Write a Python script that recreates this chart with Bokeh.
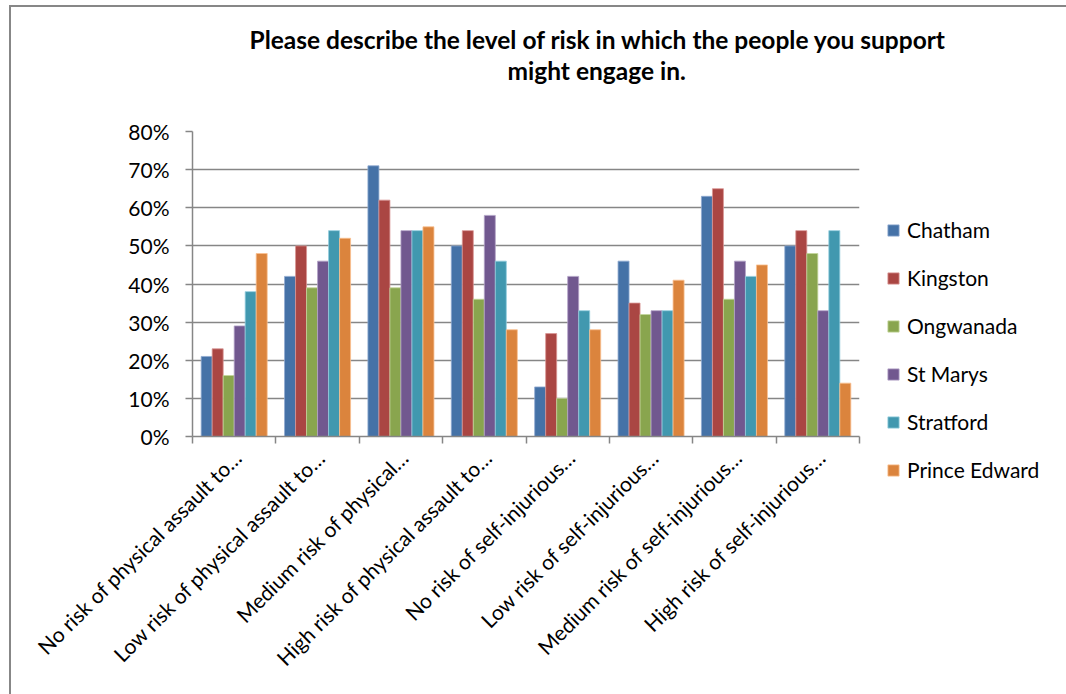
import math
from bokeh.plotting import figure
from bokeh.models import (ColumnDataSource, Legend, LegendItem, FixedTicker,
                          NumeralTickFormatter, CustomJSTickFormatter, Title,
                          Range1d)
from bokeh.embed import file_html
from bokeh.resources import INLINE

# Risk levels (x categories)
categories = [
    "No risk of physical assault to…",
    "Low risk of physical assault to…",
    "Medium risk of physical…",
    "High risk of physical assault to…",
    "No risk of self-injurious…",
    "Low risk of self-injurious…",
    "Medium risk of self-injurious…",
    "High risk of self-injurious…",
]

sites = ["Chatham", "Kingston", "Ongwanada", "St Marys", "Stratford", "Prince Edward"]

# Percent of respondents per site
chatham = [21, 42, 71, 50, 13, 46, 63, 50]
kingston = [23, 50, 62, 54, 27, 35, 65, 54]
ongwanada = [16, 39, 39, 36, 10, 32, 36, 48]
st_marys = [29, 46, 54, 58, 42, 33, 46, 33]
stratford = [38, 54, 54, 46, 33, 33, 42, 54]
prince_edward = [48, 52, 55, 28, 28, 41, 45, 14]

y_ticks = [0, 10, 20, 30, 40, 50, 60, 70, 80]

title_lines = ["Please describe the level of risk in which the people you support",
               "might engage in."]

series = [chatham, kingston, ongwanada, st_marys, stratford, prince_edward]
colors = ["#4572A7", "#AA4643", "#89A54E", "#71588F", "#4198AF", "#DB843D"]
edge_colors = ["#8FAAD0", "#D99694", "#C3D69B", "#B3A2C7", "#93CDDD", "#FAC090"]

FONT = "Lato"
GRID = "#868686"

p = figure(
    width=1055, height=687,
    frame_width=667, frame_height=305,
    min_border_left=181, min_border_right=207,
    min_border_top=124, min_border_bottom=258,
    x_range=Range1d(0, len(categories)), y_range=Range1d(0, 0.8),
    output_backend="svg", toolbar_location=None, tools="",
)
p.title = None
p.outline_line_color = None
p.background_fill_color = "white"
p.border_fill_color = "white"
# chart-area border on the left and top edges
p.styles = {"margin-left": "9px", "margin-top": "5px",
            "border-left": "2px solid #878787", "border-top": "2px solid #878787"}

# Clustered bars: six per risk level
bar_w = 0.132
n = len(sites)
items = []
for j, (name, vals, col, edge) in enumerate(zip(sites, series, colors, edge_colors)):
    xs = [i + 0.5 + (j - (n - 1) / 2) * bar_w for i in range(len(categories))]
    src = ColumnDataSource(dict(x=xs, top=[v / 100 for v in vals]))
    r = p.vbar(x="x", top="top", bottom=0, width=bar_w, source=src,
               fill_color=col, line_color=edge, line_width=0.8)
    items.append(LegendItem(label=name, renderers=[r]))

# Y axis
p.yaxis.ticker = FixedTicker(ticks=[t / 100 for t in y_ticks])
p.yaxis.formatter = NumeralTickFormatter(format="0%")
p.yaxis.axis_line_color = GRID
p.yaxis.axis_line_width = 1.5
p.yaxis.major_tick_line_color = GRID
p.yaxis.major_tick_line_width = 1.5
p.yaxis.major_tick_out = 7
p.yaxis.major_tick_in = 0
p.yaxis.minor_tick_line_color = None
p.yaxis.major_label_standoff = 16
p.yaxis.major_label_text_font = FONT
p.yaxis.major_label_text_font_size = "21px"
p.yaxis.major_label_text_color = "black"

p.ygrid.ticker = FixedTicker(ticks=[t / 100 for t in y_ticks])
p.ygrid.grid_line_color = GRID
p.ygrid.grid_line_width = 1.5
p.xgrid.grid_line_color = None

# X axis: labels near group centres, minor ticks at group boundaries
label_shift = 0.04
p.xaxis.ticker = FixedTicker(
    ticks=[i + 0.5 + label_shift for i in range(len(categories))],
    minor_ticks=list(range(len(categories) + 1)),
)
p.xaxis.formatter = CustomJSTickFormatter(args=dict(labels=categories),
                                          code="return labels[Math.floor(tick)];")
p.xaxis.major_label_orientation = math.pi / 4
p.xaxis.major_tick_out = 0
p.xaxis.major_tick_in = 0
p.xaxis.minor_tick_out = 7
p.xaxis.minor_tick_in = 0
p.xaxis.minor_tick_line_color = GRID
p.xaxis.minor_tick_line_width = 1.5
p.xaxis.axis_line_color = GRID
p.xaxis.axis_line_width = 1.5
p.xaxis.major_label_standoff = 10
p.xaxis.major_label_text_font = FONT
p.xaxis.major_label_text_font_size = "21px"
p.xaxis.major_label_text_color = "black"

# Legend to the right of the plot area
legend = Legend(items=items, location=(27, -46), orientation="vertical",
                glyph_width=14, glyph_height=14, label_height=20, spacing=23,
                label_standoff=7, padding=0, margin=0,
                border_line_color=None, background_fill_alpha=0,
                label_text_font=FONT, label_text_font_size="21px",
                label_text_color="black")
p.add_layout(legend, "right")

# Two-line chart title (second line sits closest to the plot)
p.add_layout(Title(text=title_lines[1], align="left", offset=315, standoff=93,
                   text_font=FONT, text_font_style="bold", text_font_size="24.5px",
                   text_color="black"), "above")
p.add_layout(Title(text=title_lines[0], align="left", offset=57, standoff=-92,
                   text_font=FONT, text_font_style="bold", text_font_size="24.5px",
                   text_color="black"), "above")

open("out.html", "w").write(file_html(p, INLINE))
